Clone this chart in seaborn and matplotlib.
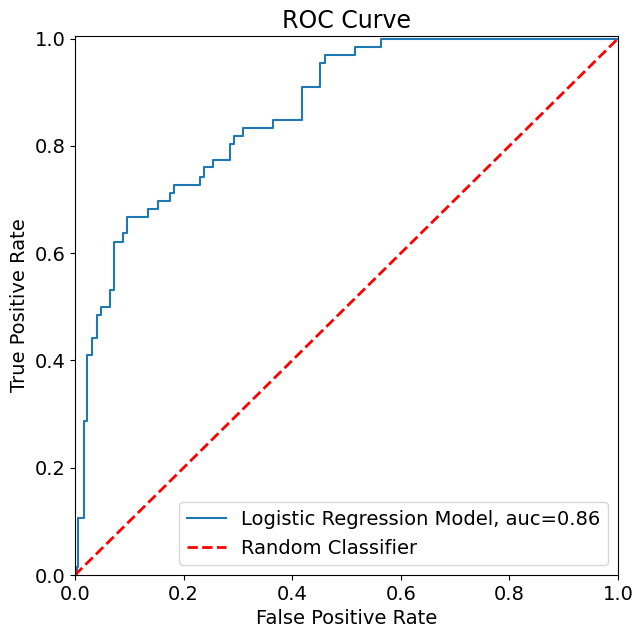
import numpy as np
import pandas as pd
import seaborn as sns
import matplotlib
matplotlib.use("Agg")
import matplotlib.pyplot as plt

# ROC corner points (steps-post)
fpr = [0.0, 0.003, 0.006, 0.016, 0.023, 0.031, 0.040, 0.048, 0.064, 0.072,
       0.088, 0.096, 0.135, 0.152, 0.175, 0.182, 0.230, 0.238, 0.255, 0.286,
       0.293, 0.309, 0.364, 0.419, 0.452, 0.460, 0.516, 0.563, 1.0]
tpr = [0.0, 0.015, 0.106, 0.288, 0.410, 0.441, 0.484, 0.500, 0.531, 0.621,
       0.638, 0.668, 0.683, 0.698, 0.712, 0.727, 0.742, 0.760, 0.774, 0.804,
       0.819, 0.834, 0.849, 0.910, 0.955, 0.970, 0.985, 1.0, 1.0]
auc = 0.86

chance_x = [0.0, 1.0]
chance_y = [0.0, 1.0]

df = pd.DataFrame({"fpr": fpr, "tpr": tpr})

fig, ax = plt.subplots(figsize=(6.43, 6.38), dpi=100)
fig.subplots_adjust(left=0.1166, right=0.961, top=0.9436, bottom=0.0987)

sns.lineplot(data=df, x="fpr", y="tpr", estimator=None, drawstyle="steps-post",
             color="#1f77b4", linewidth=1.5,
             label=f"Logistic Regression Model, auc={auc}", ax=ax)
ax.plot(chance_x, chance_y, "r--", linewidth=2, label="Random Classifier")

ax.set_xlim(0, 1)
ax.set_ylim(0, 1.005)
ax.set_title("ROC Curve", fontsize=17)
ax.set_xlabel("False Positive Rate", fontsize=14)
ax.set_ylabel("True Positive Rate", fontsize=14)
ax.tick_params(labelsize=14)
ax.legend(loc="lower right", fontsize=14)

plt.savefig("out.png", dpi=100)
